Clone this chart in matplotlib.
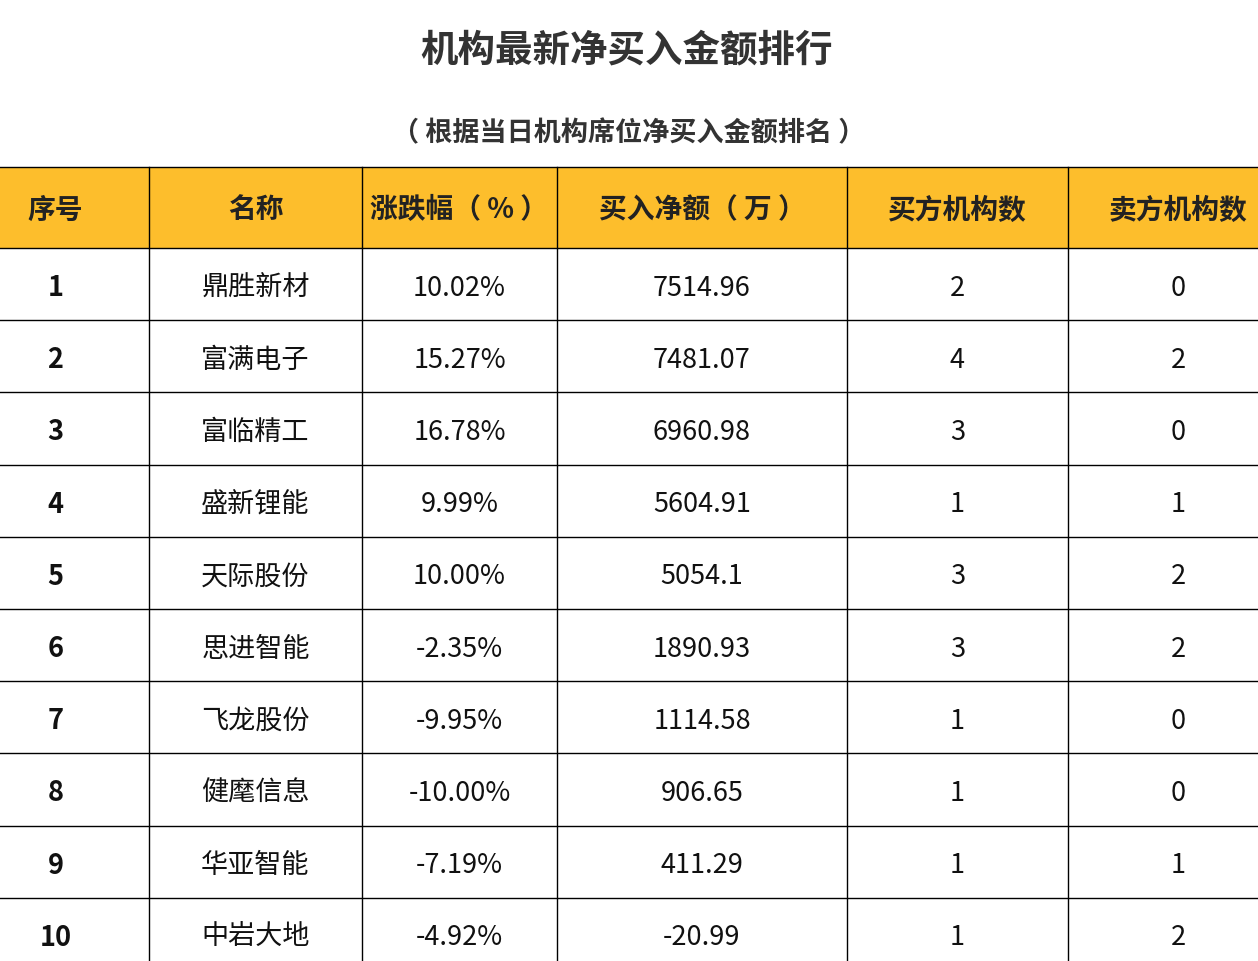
import matplotlib

matplotlib.use("Agg")
import matplotlib.pyplot as plt
from matplotlib.patches import Rectangle

TITLE = "机构最新净买入金额排行"
SUBTITLE = "（ 根据当日机构席位净买入金额排名 ）"
HEADERS = ["序号", "名称", "涨跌幅（ % ）", "买入净额（ 万 ）", "买方机构数", "卖方机构数"]
RANKS = ["1", "2", "3", "4", "5", "6", "7", "8", "9", "10"]
NAMES = ["鼎胜新材", "富满电子", "富临精工", "盛新锂能", "天际股份",
         "思进智能", "飞龙股份", "健麾信息", "华亚智能", "中岩大地"]
CHANGES = ["10.02%", "15.27%", "16.78%", "9.99%", "10.00%",
           "-2.35%", "-9.95%", "-10.00%", "-7.19%", "-4.92%"]
NET_BUY = ["7514.96", "7481.07", "6960.98", "5604.91", "5054.1",
           "1890.93", "1114.58", "906.65", "411.29", "-20.99"]
BUYERS = ["2", "4", "3", "1", "3", "3", "1", "1", "1", "1"]
SELLERS = ["0", "2", "0", "1", "2", "2", "0", "0", "1", "2"]

W, H = 1258, 962
# table runs slightly past the image on both sides
COL_X = [-38, 149, 362, 557, 847, 1068, 1288]
HEAD_TOP, HEAD_BOT = 168, 249
ROW_H = 72.2
FONT = "Noto Sans CJK SC"

fig = plt.figure(figsize=(W / 100, H / 100), dpi=100)
ax = fig.add_axes([0, 0, 1, 1])
ax.set_xlim(0, W)
ax.set_ylim(H, 0)
ax.axis("off")

ax.text(W / 2 - 2, 50, TITLE, ha="center", va="center", fontsize=27,
        fontweight="bold", family=FONT, color="#333333")
ax.text(W / 2, 133, SUBTITLE, ha="center", va="center", fontsize=19.5,
        fontweight="bold", family=FONT, color="#333333")

ax.add_patch(Rectangle((0, HEAD_TOP), W, HEAD_BOT - HEAD_TOP, facecolor="#FDBE2C",
                       edgecolor="none"))
for i, label in enumerate(HEADERS):
    cx = (COL_X[i] + COL_X[i + 1]) / 2
    ax.text(cx, (HEAD_TOP + HEAD_BOT) / 2 + 2, label, ha="center", va="center",
            fontsize=20, fontweight="bold", family=FONT, color="#222222")

columns = [RANKS, NAMES, CHANGES, NET_BUY, BUYERS, SELLERS]
for r in range(len(RANKS)):
    cy = HEAD_BOT + ROW_H * (r + 0.5) + 3
    for i, col in enumerate(columns):
        cx = (COL_X[i] + COL_X[i + 1]) / 2
        ax.text(cx, cy, col[r], ha="center", va="center", fontsize=19.5,
                fontweight="bold" if i == 0 else "normal", family=FONT, color="#111111")

# grid lines
ax.plot([0, W], [HEAD_TOP, HEAD_TOP], color="black", linewidth=1)
for r in range(len(RANKS) + 1):
    y = HEAD_BOT + ROW_H * r
    ax.plot([0, W], [y, y], color="black", linewidth=1)
for x in COL_X[1:-1]:
    ax.plot([x, x], [HEAD_TOP, H], color="black", linewidth=1)

fig.savefig("out.png", dpi=100)
